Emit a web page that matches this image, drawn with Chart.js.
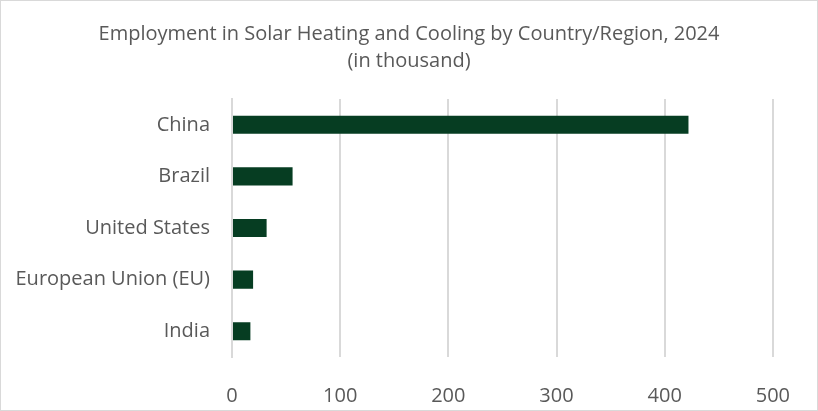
<!DOCTYPE html>
<html>
<head>
<meta charset="utf-8">
<script src="https://cdn.jsdelivr.net/npm/chart.js@4"></script>
<style>
    html, body { margin: 0; padding: 0; background: #fff; }
    #box { width: 816px; height: 409px; border: 1px solid #d9d9d9; }
</style>
</head>
<body>
<div id="box"><canvas id="grafico" width="816" height="409"></canvas></div>
<script>
const paises = ["China", "Brazil", "United States", "European Union (EU)", "India"];
const empregos = [422, 56, 32, 19.5, 17];
const ticksX = [0, 100, 200, 300, 400, 500];

const cinza = "#595959";
const fonte = "Open Sans";
const tamanho = 20;

const ctx = document.getElementById("grafico").getContext("2d");
new Chart(ctx, {
    type: "bar",
    data: {
        labels: paises,
        datasets: [
            {
                label: "Employment",
                data: empregos,
                backgroundColor: "#063d22",
                borderWidth: 0,
                categoryPercentage: 1,
                barPercentage: 0.35,
            },
        ],
    },
    options: {
        indexAxis: "y",
        responsive: false,
        animation: false,
        layout: {
            padding: 0,
        },
        plugins: {
            legend: { display: false },
            tooltip: { enabled: false },
            title: {
                display: true,
                text: ["Employment in Solar Heating and Cooling by Country/Region, 2024", "(in thousand)"],
                color: cinza,
                font: { family: fonte, size: tamanho, weight: "normal", lineHeight: 1.35 },
                padding: { top: 20, bottom: 24 },
            },
        },
        scales: {
            x: {
                min: ticksX[0],
                max: ticksX[ticksX.length - 1],
                afterBuildTicks: (axis) => {
                    axis.ticks = ticksX.map((v) => ({ value: v }));
                },
                afterFit: (escala) => {
                    escala.height = 53;
                },
                grid: { color: "#d9d9d9", lineWidth: 2, drawTicks: false },
                border: { display: false },
                ticks: {
                    color: cinza,
                    font: { family: fonte, size: tamanho },
                    padding: 27,
                    maxRotation: 0,
                },
            },
            y: {
                afterFit: (escala) => {
                    escala.width = 231;
                },
                grid: { display: false, drawTicks: false },
                border: { display: true, color: "#d9d9d9", width: 2 },
                ticks: {
                    color: cinza,
                    font: { family: fonte, size: tamanho },
                    padding: 22,
                },
            },
            // margem da direita, so para o titulo ficar centrado
            margem: {
                type: "category",
                position: "right",
                afterFit: (escala) => {
                    escala.width = 40;
                },
                grid: { display: false, drawTicks: false },
                border: { display: false },
                ticks: { display: false },
            },
        },
    },
});
</script>
</body>
</html>
